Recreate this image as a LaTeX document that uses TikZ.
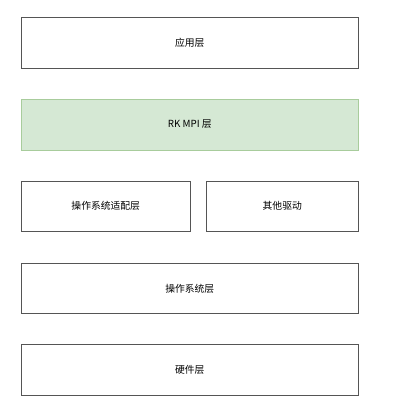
\documentclass[tikz,border=0pt]{standalone}
\usepackage{fontspec}
\setmainfont{Noto Sans CJK SC}
\definecolor{mpifill}{HTML}{D5E8D4}
\definecolor{mpiline}{HTML}{A8CC9C}
\definecolor{boxline}{HTML}{555555}

\begin{document}
\begin{tikzpicture}[x=1pt, y=-1pt,
		layer/.style={draw=boxline, line width=1pt, inner sep=0pt, font=\fontsize{9.8}{12}\selectfont}]
			%%%%% START %%%%%
			
			\useasboundingbox (0, 0) rectangle (400, 416);
			
			\node[layer, minimum width=336.5pt, minimum height=51pt] (app) at (189.75, 42.5) {应用层};
			
			\node[layer, draw=mpiline, fill=mpifill, minimum width=336.5pt, minimum height=51pt] (mpi) at (189.75, 124.5) {RK MPI 层};
			
			\node[layer, minimum width=168.5pt, minimum height=50.5pt] (osadapt) at (105.75, 206.25) {操作系统适配层};
			\node[layer, minimum width=151.5pt, minimum height=50.5pt] (drivers) at (282.25, 206.25) {其他驱动};
			
			\node[layer, minimum width=336.5pt, minimum height=50pt] (os) at (189.75, 288.5) {操作系统层};
			
			\node[layer, minimum width=336.5pt, minimum height=50.5pt] (hw) at (189.75, 369.75) {硬件层};
			
			%%%%% END %%%%%
		\end{tikzpicture}
\end{document}
